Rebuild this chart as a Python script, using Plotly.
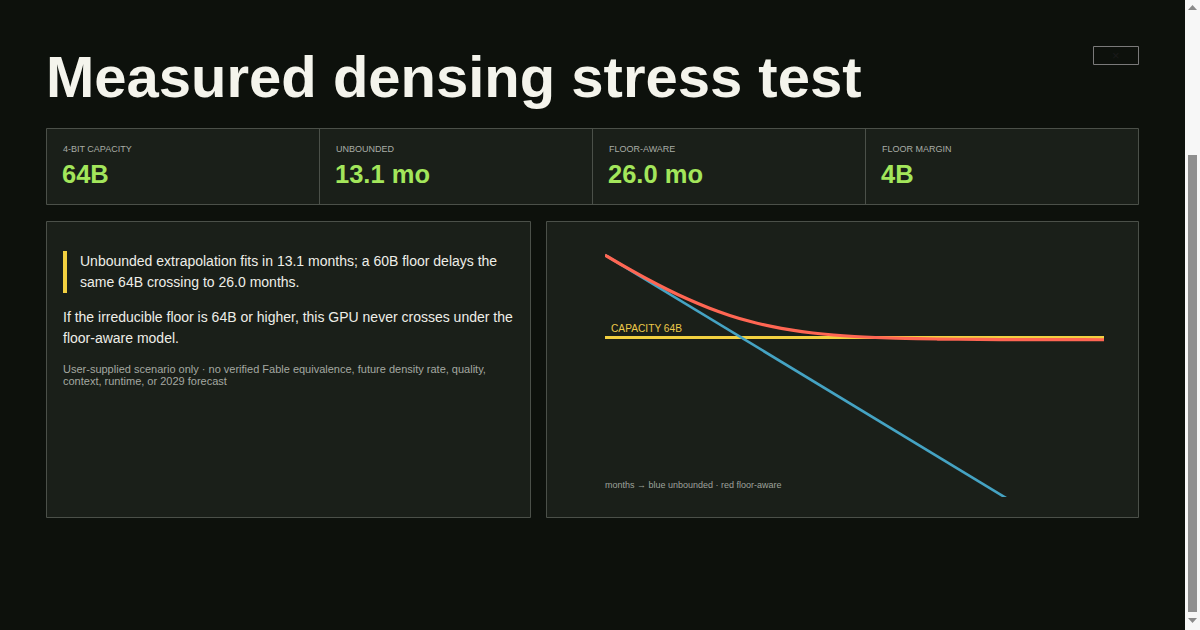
import plotly.graph_objects as go

# ---------------- data ----------------
title_text = "Measured densing stress test"

stat_labels = ["4-BIT CAPACITY", "UNBOUNDED", "FLOOR-AWARE", "FLOOR MARGIN"]
stat_values = ["64B", "13.1 mo", "26.0 mo", "4B"]

quote_lines = [
    "Unbounded extrapolation fits in 13.1 months; a 60B floor delays the",
    "same 64B crossing to 26.0 months.",
]
para_lines = [
    "If the irreducible floor is 64B or higher, this GPU never crosses under the",
    "floor-aware model.",
]
note_lines = [
    "User-supplied scenario only \u00b7 no verified Fable equivalence, future density rate, quality,",
    "context, runtime, or 2029 forecast",
]

months = [0, 2, 4, 6, 8, 10, 12, 14, 16, 18, 20, 22, 24,
          26, 28, 30, 32, 34, 36, 38, 40, 42, 44, 46, 48]
unbounded_b = [671, 468.7, 327.4, 228.7, 159.8, 111.6, 77.9, 54.5, 38.0, 26.6, 18.6, 12.96, 9.05,
               6.33, 4.42, 3.09, 2.16, 1.51, 1.05, 0.735, 0.513, 0.358, 0.250, 0.175, 0.122]
floor_aware_b = [671, 475.0, 341.9, 251.4, 190.0, 148.3, 120.0, 100.8, 87.7, 78.8, 72.8, 68.7, 65.9,
                 64.0, 62.72, 61.85, 61.25, 60.85, 60.58, 60.39, 60.27, 60.18, 60.12, 60.08, 60.06]
capacity_b = 64
capacity_label = "CAPACITY 64B"
caption = "months \u2192 blue unbounded \u00b7 red floor-aware"

# ---------------- style ----------------
W, H = 1200, 630
FONT = "Liberation Sans, Arial, Helvetica, sans-serif"
BG = "#0d110c"
PANEL = "#1a1f19"
BORDER = "#4b5049"
GREEN = "#a3e65b"
YELLOW = "#f2d040"
BLUE = "#45a3c3"
RED = "#ff6653"


def X(p):
    return p / W


def Y(p):
    return 1 - p / H


shapes = []


def rect(x0, y0, x1, y1, fill=None, line=None, lw=1, layer="below"):
    shapes.append(dict(type="rect", xref="paper", yref="paper",
                       x0=X(x0), x1=X(x1), y0=Y(y1), y1=Y(y0),
                       fillcolor=fill if fill else "rgba(0,0,0,0)",
                       line=dict(color=line if line else "rgba(0,0,0,0)", width=lw if line else 0),
                       layer=layer))


def vline(x, y0, y1, color, lw=1):
    shapes.append(dict(type="line", xref="paper", yref="paper",
                       x0=X(x), x1=X(x), y0=Y(y0), y1=Y(y1),
                       line=dict(color=color, width=lw), layer="below"))


# stats strip
rect(46.5, 128.5, 1138.5, 204.5, PANEL, BORDER)
for sx in [319.5, 592.5, 865.5]:
    vline(sx, 129, 204, BORDER)
# panels
rect(46.5, 221.5, 530.5, 517.5, PANEL, BORDER)
rect(546.5, 221.5, 1138.5, 517.5, PANEL, BORDER)
# quote bar
rect(63, 251, 67, 293, YELLOW)
# close button
rect(1093.5, 46.5, 1138.5, 64.5, None, "#7a7a7a")
# scrollbar
rect(1185, 0, 1200, 630, "#f7f7f7", layer="above")
shapes.append(dict(type="rect", xref="paper", yref="paper",
                   x0=X(1188), x1=X(1197), y0=Y(612), y1=Y(155),
                   fillcolor="#8f8f8f", line=dict(width=0), layer="above"))
shapes.append(dict(type="path", xref="paper", yref="paper",
                   path=f"M {X(1188)} {Y(10)} L {X(1197)} {Y(10)} L {X(1192.5)} {Y(5)} Z",
                   fillcolor="#8a8a8a", line=dict(width=0), layer="above"))
shapes.append(dict(type="path", xref="paper", yref="paper",
                   path=f"M {X(1188)} {Y(618)} L {X(1197)} {Y(618)} L {X(1192.5)} {Y(623)} Z",
                   fillcolor="#8a8a8a", line=dict(width=0), layer="above"))

annotations = []


def text(x, y, s, size, color, bold=False, xanchor="left"):
    annotations.append(dict(xref="paper", yref="paper", x=X(x), y=Y(y),
                            text=f"<b>{s}</b>" if bold else s,
                            showarrow=False, xanchor=xanchor, yanchor="middle",
                            font=dict(family=FONT, size=size, color=color)))


# title
text(44, 76, title_text, 58, "#f4f4ec", bold=True)
text(1116, 55, "\u00d7", 13, "#1a1a1a", xanchor="center")

# stats
cell_left = [62, 335, 608, 881]
for cx, lab, val in zip(cell_left, stat_labels, stat_values):
    text(cx - 1, 149, lab, 9, "#a9ada6")
    text(cx - 2, 174, val, 25.5, GREEN, bold=True)

# left panel text
text(78, 261, quote_lines[0], 14, "#eeeee8")
text(78, 282, quote_lines[1], 14, "#eeeee8")
text(61, 317, para_lines[0], 14, "#eeeee8")
text(61, 338, para_lines[1], 14, "#eeeee8")
text(61, 369, note_lines[0], 11, "#a4a8a1")
text(61, 381, note_lines[1], 11, "#a4a8a1")

# chart labels
text(609, 328, capacity_label, 10.2, "#ecc94a")
text(603, 485, caption, 9, "#9ea29b")

fig = go.Figure()
fig.add_trace(go.Scatter(x=[months[0], months[-1]], y=[capacity_b, capacity_b], mode="lines",
                         line=dict(color=YELLOW, width=3), hoverinfo="skip", showlegend=False))
fig.add_trace(go.Scatter(x=months, y=unbounded_b, mode="lines",
                         line=dict(color=BLUE, width=2.6), name="unbounded", showlegend=False))
fig.add_trace(go.Scatter(x=months, y=floor_aware_b, mode="lines", line_shape="spline",
                         line=dict(color=RED, width=3.2), name="floor-aware", showlegend=False))

fig.update_layout(
    width=W, height=H, margin=dict(l=0, r=0, t=0, b=0),
    paper_bgcolor=BG, plot_bgcolor="rgba(0,0,0,0)",
    shapes=shapes, annotations=annotations,
    xaxis=dict(domain=[X(605), X(1104)], range=[0, 48], visible=False, fixedrange=True),
    yaxis=dict(domain=[Y(497), Y(237)], type="log", range=[-0.1673, 3.0497],
               visible=False, fixedrange=True),
    font=dict(family=FONT),
)

fig.write_html(
    "out.html",
    config={"displayModeBar": False},
    post_script="document.body.style.margin='0';document.body.style.overflow='hidden';"
                "document.documentElement.style.overflow='hidden';",
)
